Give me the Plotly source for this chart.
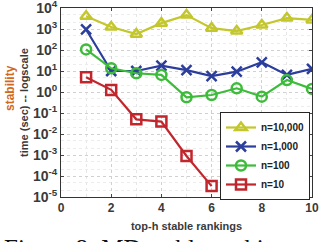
import plotly.graph_objects as go

x_vals = [1, 2, 3, 4, 5, 6, 7, 8, 9, 10]
n10000 = [4000, 1250, 570, 1900, 4600, 1100, 800, 1550, 3300, 2700]
n1000 = [950, 10, 10, 18, 11, 5.7, 9.3, 26, 6.5, 12.6]
n100 = [107, 13.5, 7.8, 6.5, 0.56, 0.72, 1.5, 0.6, 3.7, 1.4]
x_n10 = [1, 2, 3, 4, 5, 6]
n10 = [5.0, 1.26, 0.05, 0.039, 0.0009, 0.000033]

y_tickvals = [1e-5, 1e-4, 1e-3, 1e-2, 1e-1, 1, 10, 100, 1000, 10000]
y_ticktext = ["10<sup>-5</sup>", "10<sup>-4</sup>", "10<sup>-3</sup>", "10<sup>-2</sup>",
              "10<sup>-1</sup>", "10<sup>0</sup>", "10<sup>1</sup>", "10<sup>2</sup>",
              "10<sup>3</sup>", "10<sup>4</sup>"]
x_tickvals = [0, 2, 4, 6, 8, 10]

series = [
    ("n=10,000", x_vals, n10000, "#C3C72C", "triangle-up-open"),
    ("n=1,000", x_vals, n1000, "#2C3E9C", "x-thin-open"),
    ("n=100", x_vals, n100, "#3DBB3A", "circle-open"),
    ("n=10", x_n10, n10, "#C0262C", "square-open"),
]

fig = go.Figure()
for name, xs, ys, col, sym in series:
    fig.add_trace(go.Scatter(
        x=xs, y=ys, name=name, mode="lines+markers",
        line=dict(color=col, width=2.2),
        marker=dict(symbol=sym, size=10, color=col, line=dict(color=col, width=2.5)),
    ))

font_fam = "Liberation Sans, Arial, sans-serif"
L, R, T, B = 61, 11, 8, 45
W, H = 323, 242
pw = W - L - R
ph = H - T - B

def px_x(px):
    return (px - L) / pw

def px_y(py):
    return (H - B - py) / ph

fig.update_layout(
    width=W, height=H,
    margin=dict(l=L, r=R, t=T, b=B),
    paper_bgcolor="white", plot_bgcolor="white",
    font=dict(family=font_fam, color="#3a3a3a", size=11),
    showlegend=True,
    legend=dict(
        x=px_x(310), y=px_y(112), xanchor="right", yanchor="top",
        bgcolor="white", bordercolor="#262626", borderwidth=1,
        font=dict(family=font_fam, size=10, color="#222222", weight="bold"),
        tracegroupgap=0, itemwidth=30,
    ),
    xaxis=dict(
        range=[0, 10], tickvals=x_tickvals, ticks="inside", ticklen=3,
        showline=True, linecolor="#333333", linewidth=1, mirror="ticks",
        showgrid=True, gridcolor="#d0d0d0", griddash="dot", gridwidth=1,
        zeroline=False, automargin=False, ticklabeloverflow="allow",
        tickfont=dict(family=font_fam, size=12, color="#3a3a3a", weight="bold"),
        title=dict(text="top-h stable rankings", standoff=7,
                   font=dict(family=font_fam, size=11, color="#3a3a3a", weight="bold")),
        minor=dict(dtick=1, showgrid=True, gridcolor="#e6e6e6", griddash="dot"),
    ),
    yaxis=dict(
        type="log", range=[-5, 4], tickvals=y_tickvals, ticktext=y_ticktext,
        ticks="inside", ticklen=3,
        showline=True, linecolor="#333333", linewidth=1, mirror="ticks",
        showgrid=True, gridcolor="#d0d0d0", griddash="dot", gridwidth=1,
        zeroline=False, automargin=False, ticklabeloverflow="allow",
        tickfont=dict(family=font_fam, size=14, color="#3a3a3a", weight="bold"),
        title=dict(text="time (sec) -- logscale", standoff=2,
                   font=dict(family=font_fam, size=11, color="#3a3a3a", weight="bold")),
        minor=dict(showgrid=True, gridcolor="#ececec", griddash="dot"),
    ),
    annotations=[
        dict(text="stability", x=px_x(10), y=px_y(88), xref="paper", yref="paper",
             showarrow=False, textangle=-90, xanchor="center", yanchor="middle",
             font=dict(family=font_fam, size=12, color="#D2691E", weight="bold")),
        dict(text="Figure 8: MD stable rankings", x=px_x(2), y=px_y(233), xref="paper", yref="paper",
             showarrow=False, xanchor="left", yanchor="top",
             font=dict(family="Liberation Serif, Times New Roman, serif", size=25, color="#111111")),
    ],
)

fig.write_html("out.html", config={"displayModeBar": False},
               post_script="document.body.style.margin='0px';document.body.style.overflow='hidden';")
